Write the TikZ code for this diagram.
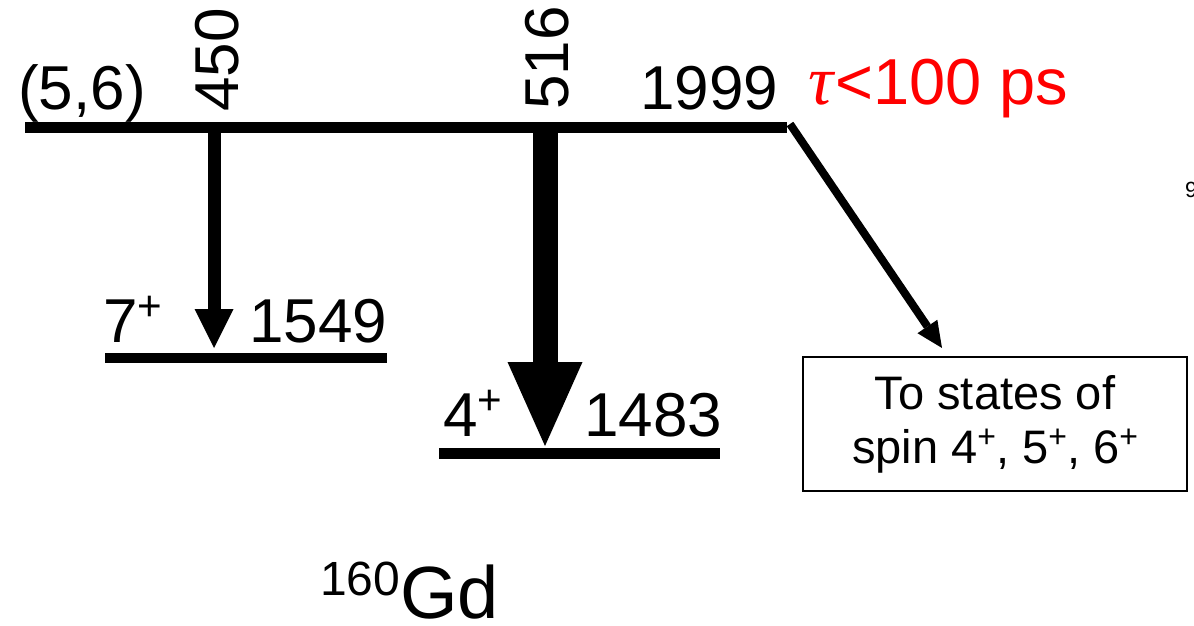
\documentclass[tikz,border=0pt]{standalone}
\usepackage{fontspec}
\setmainfont{Liberation Sans}
\newfontfamily\taufont{Liberation Serif}
\usetikzlibrary{arrows.meta}

% raised, reduced plus sign for parities
\newcommand{\spl}{\raisebox{0.34em}{\scalebox{0.68}{+}}}
\newcommand{\numfont}{\fontsize{62}{70}\selectfont}

\begin{document}
\begin{tikzpicture}[x=1pt,y=-1pt,
  lbl/.style={inner sep=0pt, anchor=base west, font=\numfont},
  levelline/.style={line width=#1, line cap=butt},
  gamma/.style n args={3}{line width=#1,
    -{Triangle[width=#2,length=#3,line width=0pt]}}]
\useasboundingbox (0,0) rectangle (1194,626);

% energy levels
\coordinate (L1999w) at (25,127);  \coordinate (L1999e) at (787,127);
\coordinate (L1549w) at (105,358); \coordinate (L1549e) at (387,358);
\coordinate (L1483w) at (439,453); \coordinate (L1483e) at (720,453);
\draw[levelline=11pt] (L1999w) -- (L1999e);
\draw[levelline=10pt] (L1549w) -- (L1549e);
\draw[levelline=11pt] (L1483w) -- (L1483e);

% gamma transitions
\coordinate (g450s) at (214,127); \coordinate (g450e) at (214,348);
\coordinate (g516s) at (545,127); \coordinate (g516e) at (545,446);
\draw[gamma={13pt}{39pt}{39pt}] (g450s) -- (g450e);
\draw[gamma={25pt}{75pt}{84pt}] (g516s) -- (g516e);

% feeding of lower-spin states
\node[draw, line width=1.2pt, minimum width=384pt, minimum height=134pt,
      inner sep=0pt, align=center,
      font=\fontsize{47}{54}\selectfont] (dest) at (995,424)
  {To states of\\spin 4\spl, 5\spl, 6\spl};
\coordinate (dstart) at (790,124);
\coordinate (dtip) at (942,348);
\draw[gamma={8pt}{24pt}{26pt}] (dstart) -- (dtip);

% labels
\node[lbl] (spin) at (18,109) {(5,6)};
\node[lbl, rotate=90] (e450) at (238,112) {450};
\node[lbl, rotate=90] (e516) at (568,110) {516};
\node[lbl] (E1999) at (640,110) {1999};
\node[lbl, text=red, font=\fontsize{65}{70}\selectfont] (tau) at (808,104)
  {{\taufont\itshape\fontsize{70}{70}\selectfont τ}\hspace{2pt}<100 ps};
\node[lbl] (j7) at (103,342) {7\spl};
\node[lbl] (E1549) at (249,342) {1549};
\node[lbl] (j4) at (443,436) {4\spl};
\node[lbl] (E1483) at (584,436) {1483};
\node[inner sep=0pt, anchor=base west, font=\fontsize{74}{76}\selectfont]
  (nuc) at (320,618) {\raisebox{0.31em}{\fontsize{48}{50}\selectfont 160}Gd};
\node[inner sep=0pt, anchor=base west, font=\fontsize{22}{24}\selectfont]
  (edge9) at (1185,197) {9};
\end{tikzpicture}
\end{document}
